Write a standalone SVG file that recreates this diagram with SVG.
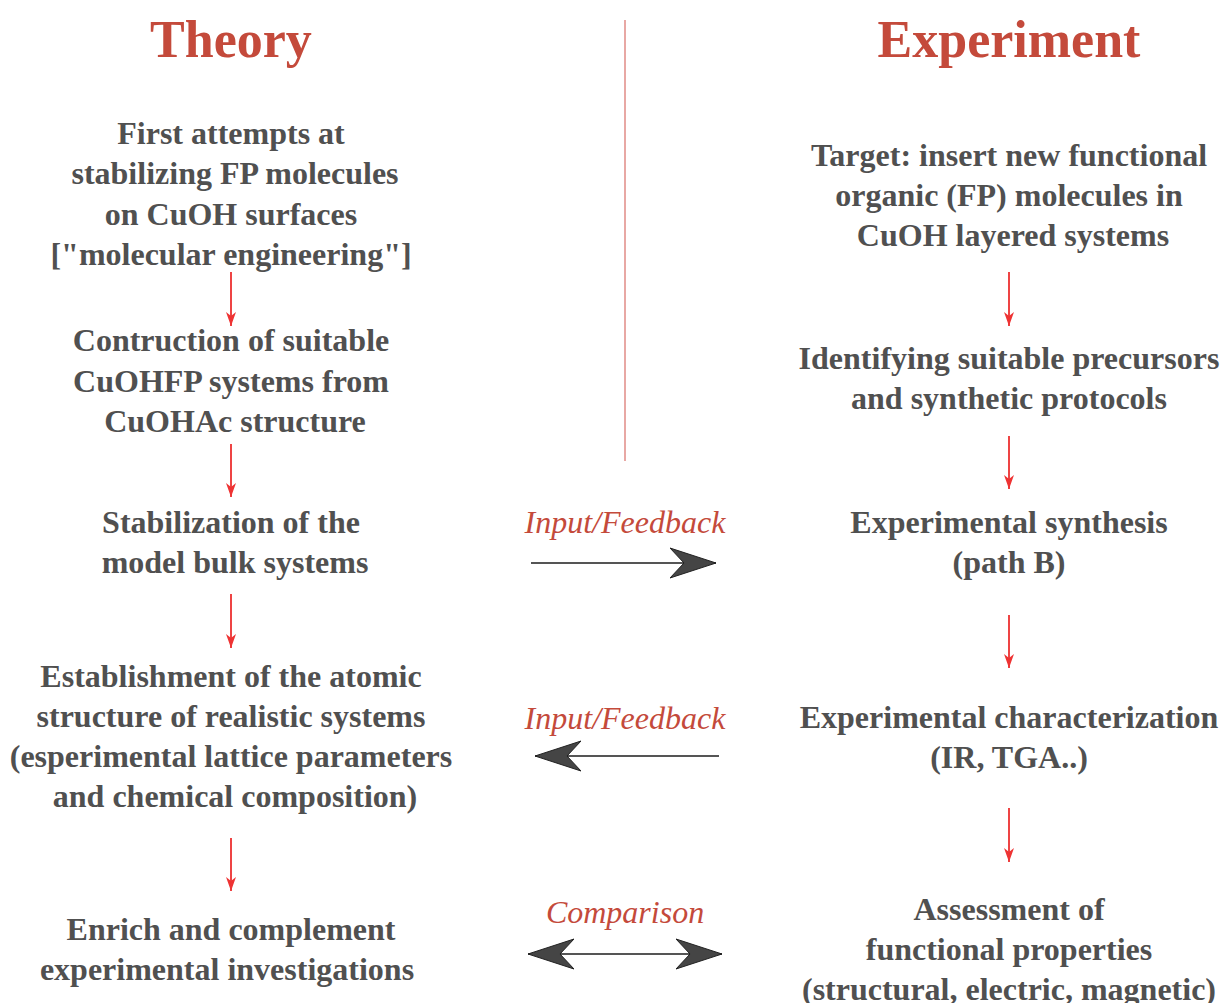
<svg xmlns="http://www.w3.org/2000/svg" width="1222" height="1003" viewBox="0 0 1222 1003">
<defs>
<style>
.t{font-family:"Liberation Serif","Times New Roman",serif;font-weight:bold;font-size:32px;fill:#505050;text-anchor:middle}
.h{font-family:"Liberation Serif","Times New Roman",serif;font-weight:bold;font-size:52px;fill:#c44a3b;text-anchor:middle}
.l{font-family:"Liberation Serif","Times New Roman",serif;font-style:italic;font-size:32px;fill:#c44a3b;text-anchor:middle}
.r{stroke:#ee4444;stroke-width:2;fill:none}
.g{stroke:#555;stroke-width:2;fill:none}
</style>
<marker id="ra" viewBox="0 0 14 10" refX="14" refY="5" markerWidth="14" markerHeight="10" markerUnits="userSpaceOnUse" orient="auto-start-reverse">
<path d="M0,0 L4,5 L0,10 L14,5 Z" fill="#ee3333"/>
</marker>
<marker id="ga" viewBox="0 0 46 32" refX="46" refY="16" markerWidth="46" markerHeight="32" markerUnits="userSpaceOnUse" orient="auto-start-reverse">
<path d="M0,1 L46,16 L0,31 L14,16 Z" fill="#454545" stroke="#222" stroke-width="1"/>
</marker>
</defs>
<rect width="1222" height="1003" fill="#fff"/>
<g id="titles">
<text class="h" x="231" y="57">Theory</text>
<text class="h" x="1009" y="57">Experiment</text>
</g>
<g id="left1"><text class="t" x="231" y="144">First attempts at</text><text class="t" x="235" y="184">stabilizing FP molecules</text><text class="t" x="231" y="225">on CuOH surfaces</text><text class="t" x="231" y="265">["molecular engineering"]</text></g>
<g id="left2"><text class="t" x="231" y="351">Contruction of suitable</text><text class="t" x="231" y="392">CuOHFP systems from</text><text class="t" x="235" y="432">CuOHAc structure</text></g>
<g id="left3"><text class="t" x="231" y="533">Stabilization of the</text><text class="t" x="235" y="573">model bulk systems</text></g>
<g id="left4"><text class="t" x="231" y="687">Establishment of the atomic</text><text class="t" x="231" y="727">structure of realistic systems</text><text class="t" x="231" y="767">(esperimental lattice parameters</text><text class="t" x="235" y="807">and chemical composition)</text></g>
<g id="left5"><text class="t" x="231" y="940">Enrich and complement</text><text class="t" x="227" y="980">experimental investigations</text></g>
<g id="right1"><text class="t" x="1009" y="166">Target: insert new functional</text><text class="t" x="1009" y="206">organic (FP) molecules in</text><text class="t" x="1013" y="246">CuOH layered systems</text></g>
<g id="right2"><text class="t" x="1009" y="369">Identifying suitable precursors</text><text class="t" x="1009" y="409">and synthetic protocols</text></g>
<g id="right3"><text class="t" x="1009" y="533">Experimental synthesis</text><text class="t" x="1009" y="573">(path B)</text></g>
<g id="right4"><text class="t" x="1009" y="728">Experimental characterization</text><text class="t" x="1009" y="768">(IR, TGA..)</text></g>
<g id="right5"><text class="t" x="1009" y="920">Assessment of</text><text class="t" x="1009" y="960">functional properties</text><text class="t" x="1009" y="1000">(structural, electric, magnetic)</text></g>
<g id="labels">
<text class="l" x="625" y="533">Input/Feedback</text>
<text class="l" x="625" y="729">Input/Feedback</text>
<text class="l" x="625" y="923">Comparison</text>
</g>
<g id="connectors">
<line x1="625" y1="20" x2="625" y2="461" stroke="#e8a8a4" stroke-width="2"/>
<line class="r" x1="231" y1="272" x2="231" y2="326" marker-end="url(#ra)"/>
<line class="r" x1="231" y1="444" x2="231" y2="497" marker-end="url(#ra)"/>
<line class="r" x1="231" y1="594" x2="231" y2="648" marker-end="url(#ra)"/>
<line class="r" x1="231" y1="838" x2="231" y2="891" marker-end="url(#ra)"/>
<line class="r" x1="1009" y1="272" x2="1009" y2="326" marker-end="url(#ra)"/>
<line class="r" x1="1009" y1="436" x2="1009" y2="489" marker-end="url(#ra)"/>
<line class="r" x1="1009" y1="615" x2="1009" y2="668" marker-end="url(#ra)"/>
<line class="r" x1="1009" y1="808" x2="1009" y2="862" marker-end="url(#ra)"/>
<line class="g" x1="531" y1="563" x2="716" y2="563" marker-end="url(#ga)"/>
<line class="g" x1="719" y1="756" x2="535" y2="756" marker-end="url(#ga)"/>
<line class="g" x1="528" y1="954" x2="722" y2="954" marker-start="url(#ga)" marker-end="url(#ga)"/>
</g>
</svg>
